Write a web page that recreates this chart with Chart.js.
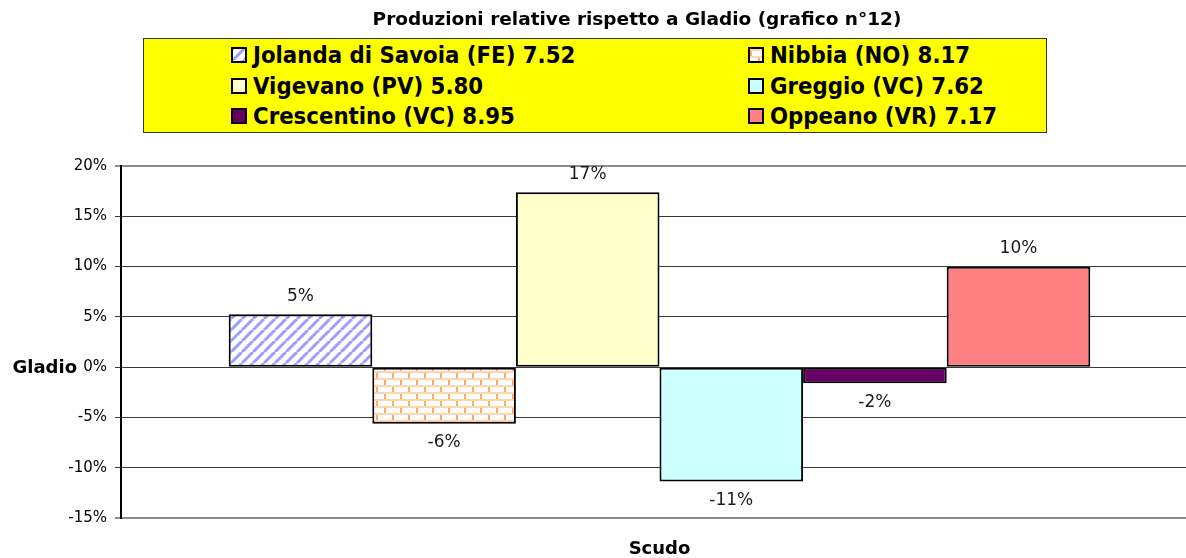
<!DOCTYPE html>
<html>
<head>
<meta charset="utf-8">
<title>Produzioni relative rispetto a Gladio</title>
<script src="https://cdn.jsdelivr.net/npm/chart.js@4.4.1/dist/chart.umd.min.js"></script>
<style>
  html, body { margin: 0; padding: 0; background: #fff; overflow: hidden; }
  body { width: 1186px; height: 558px; position: relative; font-family: "DejaVu Sans", Verdana, sans-serif; }
  #wrap { position: absolute; left: 0; top: 0; width: 1200px; height: 558px; }
  #title { position: absolute; top: 8px; left: 637px; transform: translateX(-50%); white-space: nowrap;
           font-weight: bold; font-size: 18.5px; line-height: 22px; color: #000; }
  #legend { position: absolute; left: 143px; top: 38px; width: 904px; height: 95px; box-sizing: border-box;
            border: 1px solid #333; background: #ffff00; }
  .item { position: absolute; display: flex; align-items: center; height: 30px; white-space: nowrap; color: #000;
          font-family: "DejaVu Sans Condensed", "DejaVu Sans", sans-serif; font-stretch: condensed;
          font-weight: bold; font-size: 23.7px; }
  .sw { width: 16px; height: 16px; box-sizing: border-box; border: 2px solid #000; margin-right: 6px; flex: none; }
</style>
</head>
<body>
<div id="wrap"><canvas id="chart" width="1200" height="558"></canvas></div>
<div id="title">Produzioni relative rispetto a Gladio (grafico n°12)</div>
<div id="legend"></div>
<script>
// data
const categories = ['Scudo'];
const seriesNames = ['Jolanda di Savoia (FE)', 'Nibbia (NO)', 'Vigevano (PV)', 'Greggio (VC)', 'Crescentino (VC)', 'Oppeano (VR)'];
const seriesYields = ['7.52', '8.17', '5.80', '7.62', '8.95', '7.17'];
const seriesValues = [5.26, -5.63, 17.38, -11.36, -1.59, 9.99];
const yTickValues = [-15, -10, -5, 0, 5, 10, 15, 20];

// fill patterns for the first two series
function stripeTile() {
    const c = document.createElement('canvas');
    c.width = 11; c.height = 11;
    const g = c.getContext('2d');
    g.fillStyle = '#fff';
    g.fillRect(0, 0, 11, 11);
    g.strokeStyle = '#9d9dff';
    g.lineWidth = 3;
    [-11, 0, 11].forEach(o => {
        g.beginPath();
        g.moveTo(o, 11);
        g.lineTo(o + 11, 0);
        g.stroke();
    });
    return c;
}

function brickTile() {
    const c = document.createElement('canvas');
    c.width = 16; c.height = 14;
    const g = c.getContext('2d');
    g.fillStyle = '#fff';
    g.fillRect(0, 0, 16, 14);
    g.fillStyle = '#ffd3ad';
    g.fillRect(0, 0, 16, 2);
    g.fillRect(0, 7, 16, 2);
    g.fillStyle = '#ffab66';
    g.fillRect(0, 2, 2, 5);
    g.fillRect(8, 9, 2, 5);
    return c;
}

const tiles = [stripeTile(), brickTile()];
const ctx = document.getElementById('chart').getContext('2d');
const fills = [
    ctx.createPattern(tiles[0], 'repeat'),
    ctx.createPattern(tiles[1], 'repeat'),
    '#ffffcc', '#ccffff', '#660066', '#ff8080'
];

// legend (html, two columns)
const legendEl = document.getElementById('legend');
seriesNames.forEach((name, i) => {
    const item = document.createElement('div');
    item.className = 'item';
    item.style.left = (i % 2 === 0 ? 87 : 604) + 'px';
    item.style.top = (1 + Math.floor(i / 2) * 30.5) + 'px';
    const sw = document.createElement('span');
    sw.className = 'sw';
    if (i < 2) sw.style.backgroundImage = `url(${tiles[i].toDataURL()})`;
    else sw.style.background = fills[i];
    const txt = document.createElement('span');
    txt.textContent = `${name} ${seriesYields[i]}`;
    item.appendChild(sw);
    item.appendChild(txt);
    legendEl.appendChild(item);
});

const barLabels = {
    id: 'barLabels',
    afterDatasetsDraw(chart) {
        const g = chart.ctx;
        g.save();
        g.font = '17px "DejaVu Sans"';
        g.fillStyle = '#1a1a1a';
        g.textAlign = 'center';
        g.textBaseline = 'middle';
        chart.data.datasets.forEach((ds, i) => {
            const bar = chart.getDatasetMeta(i).data[0];
            const v = ds.data[0];
            g.fillText(Math.round(v) + '%', bar.x, v >= 0 ? bar.y - 18 : bar.y + 19);
        });
        // horizontal y axis title next to 0%
        const y0 = chart.scales.y.getPixelForValue(0);
        g.font = 'bold 18px "DejaVu Sans"';
        g.fillStyle = '#000';
        g.textAlign = 'right';
        g.fillText('Gladio', 77, y0 + 1);
        g.restore();
    }
};

const isEdge = c => c.tick && (c.tick.value === yTickValues[0] || c.tick.value === yTickValues[yTickValues.length - 1]);

new Chart(ctx, {
    type: 'bar',
    data: {
        labels: categories,
        datasets: seriesNames.map((name, i) => ({
            label: `${name} ${seriesYields[i]}`,
            data: [seriesValues[i]],
            backgroundColor: fills[i],
            borderColor: '#000',
            borderWidth: 2,
            borderSkipped: false,
            barPercentage: 1,
            categoryPercentage: 0.8
        }))
    },
    options: {
        responsive: false,
        animation: false,
        devicePixelRatio: 1,
        layout: { padding: { top: 166, right: 2, bottom: 0, left: 0 } },
        plugins: {
            legend: { display: false },
            tooltip: { enabled: false },
            title: { display: false }
        },
        scales: {
            x: {
                grid: { display: false, drawTicks: false },
                border: { display: false },
                ticks: { color: '#000', font: { family: 'DejaVu Sans', size: 18, weight: 'bold' }, padding: 21 },
                afterFit: s => { s.height = 40; }
            },
            y: {
                min: yTickValues[0],
                max: yTickValues[yTickValues.length - 1],
                afterBuildTicks: s => { s.ticks = yTickValues.map(v => ({ value: v })); },
                ticks: {
                    callback: v => v + '%',
                    color: '#000',
                    font: { family: 'DejaVu Sans', size: 15 },
                    padding: 8
                },
                grid: {
                    color: c => isEdge(c) ? '#8c8c8c' : '#3a3a3a',
                    lineWidth: c => isEdge(c) ? 2 : 1,
                    tickLength: 6
                },
                border: { color: '#000', width: 2 },
                afterFit: s => { s.width = 121; }
            }
        }
    },
    plugins: [barLabels]
});
</script>
</body>
</html>
